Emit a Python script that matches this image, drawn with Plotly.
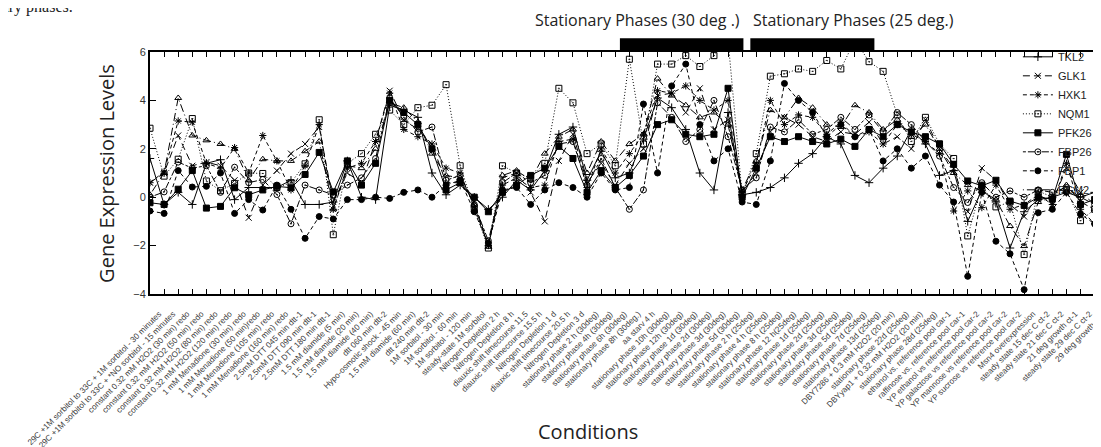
import plotly.graph_objects as go

conditions = [
    "29C +1M sorbitol to 33C + 1M sorbitol - 30 minutes",
    "29C +1M sorbitol to 33C + *NO sorbitol - 15 minutes",
    "constant 0.32 mM H2O2 (30 min) redo",
    "constant 0.32 mM H2O2 (50 min) redo",
    "constant 0.32 mM H2O2 (80 min) redo",
    "constant 0.32 mM H2O2 (120 min) redo",
    "1 mM Menadione (30 min) redo",
    "1 mM Menadione (50 min)redo",
    "1 mM Menadione (105 min) redo",
    "1 mM Menadione (160 min) redo",
    "2.5mM DTT 045 min dtt-1",
    "2.5mM DTT 090 min dtt-1",
    "2.5mM DTT 180 min dtt-1",
    "1.5 mM diamide (5 min)",
    "1.5 mM diamide (20 min)",
    "1.5 mM diamide (40 min)",
    "dtt 060 min dtt-2",
    "Hypo-osmotic shock - 45 min",
    "1.5 mM diamide (60 min)",
    "dtt 240 min dtt-2",
    "1M sorbitol - 30 min",
    "1M sorbitol - 60 min",
    "1M sorbitol - 120 min",
    "steady-state 1M sorbitol",
    "Nitrogen Depletion 2 h",
    "Nitrogen Depletion 8 h",
    "diauxic shift timecourse 11.5",
    "diauxic shift timecourse 15.5 h",
    "Nitrogen Depletion 1 d",
    "diauxic shift timecourse 20.5 h",
    "Nitrogen Depletion 3 d",
    "stationary phase 2 h (30deg)",
    "stationry phase 4h (30deg)",
    "stationary phase 6h (30deg)",
    "stationary phase 8h (30deg.)",
    "aa starv 4 h",
    "stationary phase 10h (30deg)",
    "stationary phase 12h (30deg)",
    "stationary phase 1d (30deg)",
    "stationary phase 2d (30deg)",
    "stationary phase 3d (30deg)",
    "stationary phase 5d (30deg)",
    "stationary phase 2 h (25deg)",
    "stationary phase 4 h (25deg)",
    "stationary phase 8 h (25deg)",
    "stationary phase 12 h(25deg)",
    "stationary phase 1d (25deg)",
    "stationary phase 2d (25deg)",
    "stationary phase 3d (25deg)",
    "stationary phase 5d (25deg)",
    "stationary phase 7d (25deg)",
    "stationary phase 13d (25deg)",
    "DBY7286 + 0.3 mM H2O2 (20 min)",
    "stationary phase 22d (25deg)",
    "DBYyap1 + 0.32 mM H2O2 (20 min)",
    "stationary phase 28d (25deg)",
    "ethanol vs. reference pool car-1",
    "raffinose vs. reference pool car-1",
    "YP ethanol vs reference pool car-2",
    "YP galactose vs reference pool car-2",
    "YP mannose vs reference pool car-2",
    "YP sucrose vs reference pool car-2",
    "Msn4 overexpression",
    "steady state 15 dec C ct-2",
    "steady state 21 dec C ct-2",
    "21 deg growth ct-1",
    "steady state 29 dec C ct-2",
    "29 deg growth ct-1",
    "steady state 36 dec C ct-2",
]

TKL2 = [1.6, -0.3, 0.2, -0.3, 1.4, 1.55, -0.1, 0.4, 0.4, 0.4, 0.7, -0.3, -0.3, -0.2, 1.5,
        0.0, -0.1, 3.8, 3.6, 3.3, 1.0, 0.1, 0.5, 0.0, -0.5, 0.0, 0.7, 0.3, 1.1, 2.6,
        2.9, 0.7, 1.9, 0.8, 1.0, 2.4, 4.1, 3.7, 2.8, 1.0, 0.3, 3.5, 0.1, 0.2, 0.4,
        0.8, 1.4, 1.8, 2.5, 2.2, 0.9, 0.6, 1.2, 1.7, 2.8, 2.2, 0.9, 1.1, -1.0, 0.3,
        -0.2, -2.1, -0.6, -0.1, 0.0, 0.2, 0.0, 0.2, 0.3]
GLK1 = [0.6, 1.0, 2.55, 1.3, 1.45, 1.3, 0.7, -0.85, 0.5, 1.1, 1.8, 2.2, 2.9, -0.2, 1.0,
        0.6, 2.3, 4.4, 3.2, 2.8, 2.2, 0.6, 0.6, -0.2, -2.0, 0.8, 1.0, 0.2, -1.0, 1.5,
        2.6, 0.6, 1.4, 0.5, 1.4, 2.0, 4.2, 4.3, 3.5, 4.5, 2.8, 3.2, 0.2, 1.0, 2.7,
        3.3, 3.0, 2.5, 2.3, 2.7, 2.6, 3.1, 2.2, 2.5, 2.0, 3.2, 2.0, 1.2, -0.6, 1.2,
        0.7, -0.3, -0.8, 0.1, -0.2, 1.2, 0.2, -0.3, 0.2]
HXK1 = [0.6, 1.05, 3.15, 3.1, 1.4, 1.2, 2.05, 1.0, 2.55, 1.5, 0.3, 1.3, 3.0, -0.5, 1.2,
        1.4, 2.3, 4.3, 2.8, 2.5, 2.2, 1.2, 1.0, -0.4, -2.0, 0.5, 0.8, 0.4, 0.5, 2.3,
        2.4, 0.4, 2.0, 1.0, 1.8, 2.6, 4.4, 4.3, 4.6, 4.0, 3.6, 4.0, 0.2, 1.4, 4.0,
        3.0, 3.4, 3.3, 2.6, 3.1, 2.5, 2.7, 2.2, 3.0, 2.6, 2.3, 1.8, -0.57, 0.26, -0.43,
        0.5, -0.5, -0.3, 0.1, -0.3, 1.4, -0.5, -1.1, 0.1]
NQM1 = [2.85, 0.87, 1.57, 3.25, 0.67, 0.27, 0.57, 1.0, 0.98, 0.4, 0.6, 1.38, 3.2, -1.55, 1.4,
        1.8, 2.6, 3.6, 3.0, 3.7, 3.8, 4.65, 1.3, -0.5, -2.1, 1.3, 1.0, 0.8, 1.4, 4.5,
        3.9, 1.8, 2.2, 1.3, 5.7, 2.2, 5.5, 5.5, 5.85, 5.4, 5.85, 6.5, 0.1, 1.8, 5.0,
        5.1, 5.3, 5.2, 5.65, 5.3, 6.5, 5.6, 5.2, 3.4, 2.3, 3.3, 2.2, 1.6, -1.6, 0.5,
        -0.4, -0.2, -2.37, 0.26, 0.0, 0.3, -0.97, -0.5, 0.1]
PFK26 = [-0.23, -0.3, 0.33, 1.1, -0.45, -0.38, 0.39, 0.1, 0.3, 0.45, 0.39, 0.94, 1.85, 0.22, 1.5,
         0.5, 1.4, 4.0, 3.5, 3.0, 2.0, 0.3, 0.6, 0.0, -0.6, 0.2, 0.5, 0.9, 1.2, 2.1,
         1.6, 0.2, 1.1, 0.4, 0.9, 1.7, 3.0, 3.2, 2.6, 2.5, 2.6, 4.5, 0.0, 1.2, 2.5,
         2.3, 2.5, 2.3, 2.2, 2.4, 2.1, 2.8, 2.5, 3.0, 2.7, 2.5, 2.2, 1.36, 0.67, 0.47,
         0.7, -0.16, -0.34, 0.0, -0.08, 1.77, -0.3, -0.1, 0.3]
FBP26 = [0.0, 0.22, 1.45, 1.2, 1.3, 0.2, 1.24, 0.6, 0.73, 0.11, -1.1, 0.5, 0.3, 0.1, 0.5,
         0.8, 1.6, 4.1, 3.3, 2.7, 2.9, 0.7, 0.9, -0.3, -1.8, 0.6, 1.0, 0.6, 0.9, 2.2,
         2.3, 0.5, 1.6, 0.4, -0.5, 0.3, 3.9, 3.3, 2.3, 2.8, 4.0, 2.5, 0.3, 0.8, 2.9,
         2.7, 3.2, 2.6, 2.8, 3.3, 2.8, 3.4, 2.7, 3.5, 3.0, 2.3, 1.7, 0.4, -0.22, 0.6,
         0.0, 0.26, 0.0, 0.3, 0.2, 0.4, 0.0, -0.3, 0.2]
FBP1 = [-0.57, -0.67, 1.1, 0.42, 0.45, 1.0, -0.67, -0.1, -0.53, 0.5, -0.5, -1.7, -0.8, -0.9, -0.1,
        -0.1, 0.0, -0.05, 0.2, 0.3, 0.0, 0.5, 0.7, -0.6, -1.9, 0.3, 0.4, -0.3, 0.3, 0.6,
        0.4, 0.0, 1.0, 0.3, 0.4, 3.85, 1.0, 4.6, 5.5, 3.0, 1.5, 2.0, -0.2, -0.3, 1.5,
        4.7, 4.0, 3.5, 2.5, 3.0, 2.5, 2.8, 1.5, 2.0, 1.2, 1.7, 0.5, -0.2, -3.27, 0.2,
        -1.82, -2.34, -3.82, -0.64, -0.5, 0.2, -0.7, -1.1, -0.2]
PGM2 = [0.1, 1.0, 4.1, 2.55, 2.35, 2.2, 2.0, 0.7, 1.57, 1.5, 1.5, 1.9, 2.3, -0.5, 1.3,
        1.2, 2.0, 3.9, 3.7, 3.1, 1.8, 0.9, 0.8, -0.3, -2.05, 0.9, 1.1, 0.7, 1.8, 2.5,
        2.8, 1.0, 2.3, 1.5, 2.2, 2.6, 4.9, 4.2, 3.8, 3.3, 3.5, 3.0, 0.3, 1.5, 3.6,
        3.3, 4.1, 3.7, 3.0, 2.9, 3.8, 3.5, 2.8, 3.2, 2.5, 3.0, 2.0, 1.0, 0.5, 0.26,
        -0.1, -1.19, -2.02, -0.2, 0.0, 0.5, -0.2, -0.5, 0.2]

series_names = ["TKL2", "GLK1", "HXK1", "NQM1", "PFK26", "FBP26", "FBP1", "PGM2"]
series_values = [TKL2, GLK1, HXK1, NQM1, PFK26, FBP26, FBP1, PGM2]
line_dashes = ["solid", "7px,4px", "4px,3px", "1px,2px", "solid", "3px,2px,7px,2px", "4px,3px", "1px,3px,8px,3px"]
marker_symbols = ["cross-thin-open", "x-thin-open", "asterisk-open", "square-open-dot",
                  "square", "circle-open-dot", "circle", "triangle-up-open"]

phase_labels = ["Stationary Phases (30 deg .)", "Stationary Phases (25 deg.)"]
phase_spans = [(33.33, 42.09), (42.58, 51.38)]

x_index = list(range(len(conditions)))

fig = go.Figure()
for name, vals, dash, sym in zip(series_names, series_values, line_dashes, marker_symbols):
    fig.add_trace(go.Scatter(
        x=x_index, y=vals, mode="lines+markers", name=name,
        line=dict(color="black", width=1, dash=dash),
        marker=dict(symbol=sym, size=6, color="black", line=dict(color="black", width=1)),
    ))

# stationary phase bars above the plot
for (x0, x1) in phase_spans:
    fig.add_shape(type="rect", xref="x", yref="paper", x0=x0, x1=x1, y0=1.0, y1=1.057,
                  fillcolor="black", line=dict(width=0))

fig.add_annotation(text=phase_labels[0], xref="x", yref="paper", x=41.99, y=1.132,
                   xanchor="right", yanchor="middle", showarrow=False,
                   font=dict(family="Open Sans", size=16, color="#222"))
fig.add_annotation(text=phase_labels[1], xref="x", yref="paper", x=42.63, y=1.132,
                   xanchor="left", yanchor="middle", showarrow=False,
                   font=dict(family="Open Sans", size=16, color="#222"))

# axis titles
fig.add_annotation(text="Gene Expression Levels", xref="paper", yref="paper",
                   x=-0.046, y=0.5, textangle=-90, xanchor="center", yanchor="middle",
                   showarrow=False, font=dict(family="Open Sans", size=20, color="#222"))
fig.add_annotation(text="Conditions", xref="paper", yref="paper",
                   x=0.457, y=-0.57, xanchor="center", yanchor="middle",
                   showarrow=False, font=dict(family="Open Sans", size=20, color="#222"))

# cropped caption text from the page above
fig.add_annotation(text="stationary phases.", xref="paper", yref="paper",
                   x=-0.078, y=1.185, xanchor="right", yanchor="middle", showarrow=False,
                   font=dict(family="Liberation Serif", size=16, color="#222"))

fig.update_xaxes(
    tickmode="array", tickvals=x_index, ticktext=conditions, tickangle=-45,
    range=[0, 68.02], showline=True, linewidth=2, linecolor="black", mirror="ticks",
    ticks="inside", ticklen=5, tickwidth=1.2, tickcolor="black",
    showgrid=False, zeroline=False, ticklabelstandoff=10, ticklabelshift=9,
    tickfont=dict(family="Liberation Sans, Arial", size=8.2, color="#3a3a3a"),
)
fig.update_yaxes(
    range=[-4, 6], tickvals=[-4, -2, 0, 2, 4, 6], showline=True, linewidth=2, linecolor="black",
    mirror=False, ticks="inside", ticklen=6, tickwidth=1.2, tickcolor="black",
    showgrid=False, zeroline=False,
    tickfont=dict(family="Liberation Sans, Arial", size=11, color="#333"),
)

fig.update_layout(
    width=1101, height=447,
    margin=dict(l=142, r=0, t=44, b=161, autoexpand=False),
    paper_bgcolor="white", plot_bgcolor="white",
    showlegend=True,
    legend=dict(x=0.905, y=1.04, xanchor="left", yanchor="top", bgcolor="rgba(0,0,0,0)",
                font=dict(family="Liberation Sans, Arial", size=11, color="#222"),
                tracegroupgap=0, itemwidth=30),
)

fig.write_html("out.html")
